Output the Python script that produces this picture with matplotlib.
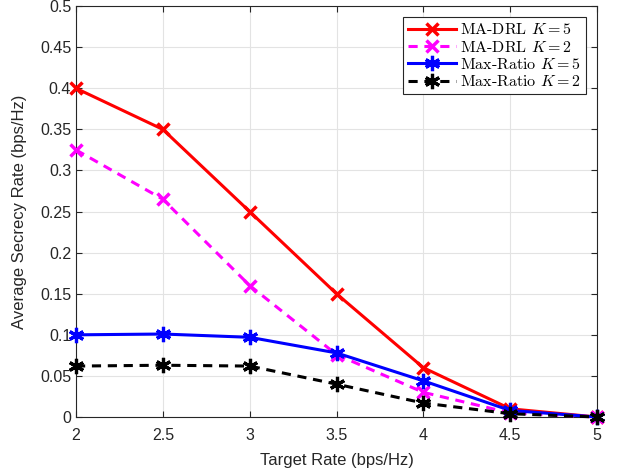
import matplotlib
matplotlib.use("Agg")
import matplotlib.pyplot as plt

target_rate = [2, 2.5, 3, 3.5, 4, 4.5, 5]
madrl_k5 = [0.40, 0.35, 0.25, 0.15, 0.06, 0.010, 0.0]
madrl_k2 = [0.325, 0.265, 0.16, 0.076, 0.030, 0.005, 0.0]
maxratio_k5 = [0.100, 0.101, 0.097, 0.078, 0.044, 0.008, 0.0]
maxratio_k2 = [0.062, 0.063, 0.062, 0.040, 0.017, 0.004, 0.0]

xticks = [2, 2.5, 3, 3.5, 4, 4.5, 5]
yticks = [0, 0.05, 0.1, 0.15, 0.2, 0.25, 0.3, 0.35, 0.4, 0.45, 0.5]

plt.rcParams['font.family'] = ['Liberation Sans', 'DejaVu Sans']
plt.rcParams['mathtext.fontset'] = 'cm'

fig = plt.figure(figsize=(6.19, 4.72), dpi=100)
ax = fig.add_axes([0.1228, 0.1165, 0.8417, 0.8705])

ast = (6, 2, 0)
common = dict(lw=2.2, clip_on=False, zorder=3)
ax.plot(target_rate, madrl_k5, color='red', marker='x', ms=8, mew=2.5,
        label='MA-DRL $K = 5$', **common)
ax.plot(target_rate, madrl_k2, color='magenta', ls=(0, (3, 2.2)), marker='x',
        ms=8, mew=2.5, label='MA-DRL $K = 2$', **common)
ax.plot(target_rate, maxratio_k5, color='blue', marker=ast, ms=11, mew=2.3,
        label='Max-Ratio $K = 5$', **common)
ax.plot(target_rate, maxratio_k2, color='black', ls=(0, (3, 2.2)), marker=ast,
        ms=11, mew=2.3, label='Max-Ratio $K = 2$', **common)

ax.set_xlim(2, 5)
ax.set_ylim(0, 0.5)
ax.set_xticks(xticks)
ax.set_xticklabels([f"{v:g}" for v in xticks])
ax.set_yticks(yticks)
ax.set_yticklabels([f"{v:g}" for v in yticks])
ax.tick_params(direction='in', top=True, right=True, labelsize=11.5, colors='#262626',
               length=4, width=0.8)
ax.tick_params(axis='x', pad=8)
for s in ax.spines.values():
    s.set_color('#262626')
    s.set_linewidth(0.8)
ax.grid(True, color='#e3e3e3', lw=0.8)
ax.set_axisbelow(True)

ax.set_xlabel('Target Rate (bps/Hz)', fontsize=12, color='#262626', labelpad=7)
ax.set_ylabel('Average Secrecy Rate (bps/Hz)', fontsize=12, color='#262626', labelpad=9)

leg = ax.legend(loc='upper right', prop={'family': 'cmr10', 'size': 11.5},
                fancybox=False, edgecolor='#262626', framealpha=1,
                handlelength=3, handletextpad=0.3, borderpad=0.3, labelspacing=0.15,
                borderaxespad=0.7)
leg.get_frame().set_linewidth(0.8)
leg.set_zorder(5)

fig.savefig('out.png', dpi=100)
